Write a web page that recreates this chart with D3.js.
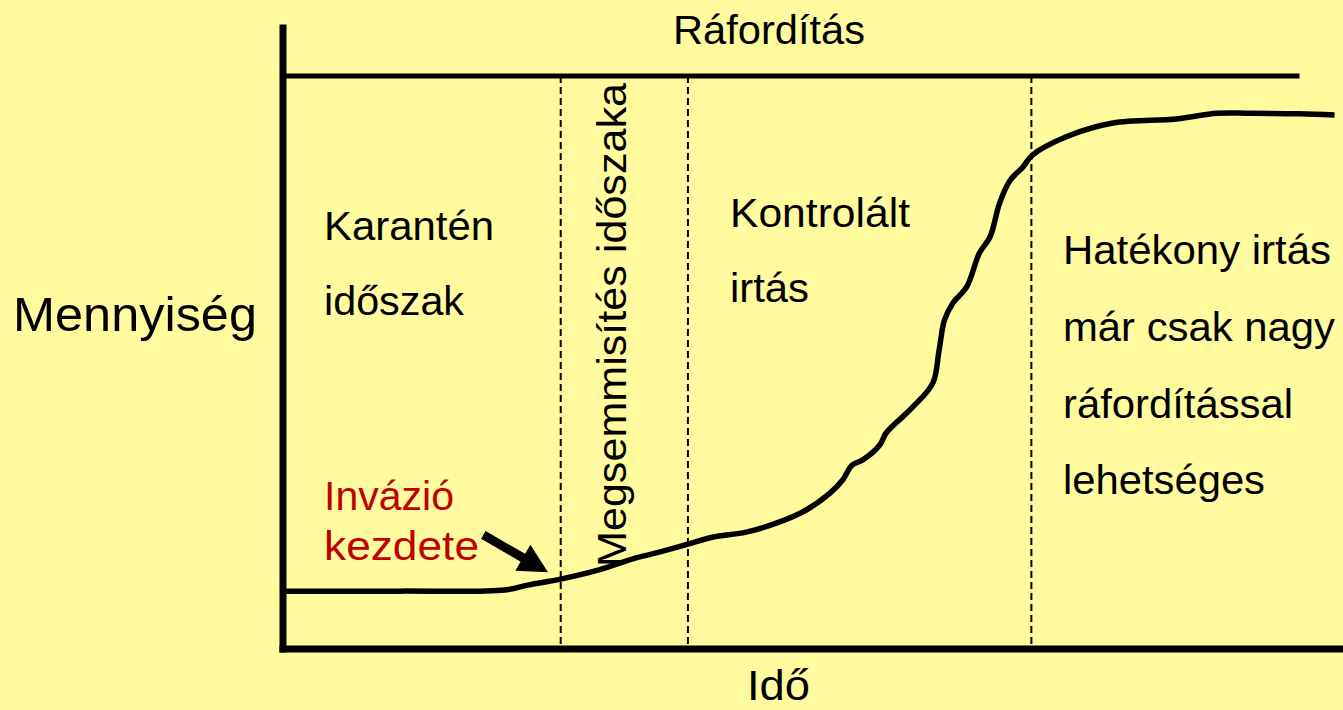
<!DOCTYPE html>
<html>
<head>
<meta charset="utf-8">
<script src="https://cdn.jsdelivr.net/npm/d3@7"></script>
<style>
  html, body { margin: 0; padding: 0; background: #FFFB9E; }
  svg { display: block; }
  text { font-family: "Liberation Sans", Arial, sans-serif; }
</style>
</head>
<body>
<svg id="chart" width="1343" height="710"></svg>
<script>
// ---- data (time 0..100, quantity 0..100) ----
const curveTime = [0, 11.0, 20.9, 23.2, 26.2, 29.8, 33.3, 35.5, 38.2, 40.5, 43.7, 46.6, 49.4, 51.6, 52.8, 53.7, 54.7, 56.3, 56.9, 59.4, 61.3, 61.9, 62.4, 63.2, 64.5, 65.7, 66.7, 67.6, 68.6, 69.8, 70.7, 73.9, 78.3, 84.3, 88.1, 91.2, 95.9, 99.2];
const curveQty  = [10.1, 10.1, 10.3, 11.2, 12.2, 13.8, 15.9, 16.9, 18.3, 19.5, 20.4, 22.0, 24.3, 27.2, 29.5, 32.1, 33.0, 35.6, 37.7, 42.2, 46.4, 52.2, 57.4, 60.4, 63.2, 69.1, 71.9, 77.8, 81.8, 84.1, 86.2, 89.4, 91.8, 92.5, 93.5, 93.5, 93.4, 93.2];
const phaseBounds = [26.2, 38.2, 70.6];          // dashed separators (time)
const effortLevel = 100;                          // "Ráfordítás" line (quantity)
const effortEnd = 95.9;                           // where the effort line ends (time)
const yAxisTop = 109;                             // y axis extends above
const arrowTail = [18.9, 19.9];                   // [time, qty]
const arrowTip  = [25.0, 13.4];

const titleTop = "Ráfordítás";
const yTitle = "Mennyiség";
const xTitle = "Idő";
const phase1Lines = ["Karantén", "időszak"];
const phase2Label = "Megsemmisítés időszaka";
const phase3Lines = ["Kontrolált", "irtás"];
const phase4Lines = ["Hatékony irtás", "már csak nagy", "ráfordítással", "lehetséges"];
const invasionLines = ["Invázió", "kezdete"];
</script>
<script>
const svg = d3.select("#chart");
const x = d3.scaleLinear().domain([0, 100]).range([283, 1343]);
const y = d3.scaleLinear().domain([0, 100]).range([649, 76]);

// dashed phase separators
svg.selectAll("line.phase").data(phaseBounds).enter().append("line")
  .attr("class", "phase")
  .attr("x1", d => x(d)).attr("x2", d => x(d))
  .attr("y1", y(effortLevel)).attr("y2", y(0))
  .attr("stroke", "#000").attr("stroke-width", 2)
  .attr("stroke-dasharray", "7,4");

// effort line
svg.append("line")
  .attr("x1", x(0)).attr("x2", x(effortEnd))
  .attr("y1", y(effortLevel)).attr("y2", y(effortLevel))
  .attr("stroke", "#000").attr("stroke-width", 5);

// curve
const pts = curveTime.map((t, i) => [t, curveQty[i]]);
svg.append("path")
  .datum(pts)
  .attr("d", d3.line().x(d => x(d[0])).y(d => y(d[1])).curve(d3.curveCatmullRom.alpha(0.5)))
  .attr("fill", "none").attr("stroke", "#000").attr("stroke-width", 5.5)
  .attr("stroke-linejoin", "round").attr("stroke-linecap", "butt");

// axes
svg.append("line")
  .attr("x1", x(0)).attr("x2", x(0))
  .attr("y1", y(yAxisTop)).attr("y2", y(0) + 3.5)
  .attr("stroke", "#000").attr("stroke-width", 7);
svg.append("line")
  .attr("x1", x(0) - 3.5).attr("x2", x(100))
  .attr("y1", y(0)).attr("y2", y(0))
  .attr("stroke", "#000").attr("stroke-width", 7);

// arrow
const ax0 = x(arrowTail[0]), ay0 = y(arrowTail[1]);
const ax1 = x(arrowTip[0]), ay1 = y(arrowTip[1]);
const dx = ax1 - ax0, dy = ay1 - ay0, L = Math.hypot(dx, dy);
const ux = dx / L, uy = dy / L, headLen = 29, headHalf = 15;
const bx = ax1 - ux * headLen, by = ay1 - uy * headLen;
svg.append("line")
  .attr("x1", ax0).attr("y1", ay0).attr("x2", bx + ux * 2).attr("y2", by + uy * 2)
  .attr("stroke", "#000").attr("stroke-width", 9);
svg.append("polygon")
  .attr("points", [[ax1, ay1], [bx - uy * headHalf, by + ux * headHalf], [bx + uy * headHalf, by - ux * headHalf]].map(p => p.join(",")).join(" "))
  .attr("fill", "#000");

// text helper
function txt(s, px, py, size, len, color) {
  return svg.append("text")
    .attr("x", px).attr("y", py)
    .attr("font-size", size)
    .attr("fill", color || "#000")
    .attr("textLength", len)
    .attr("lengthAdjust", "spacingAndGlyphs")
    .text(s);
}

txt(titleTop, 673, 44, 41, 192);
txt(yTitle, 13, 331, 49, 244);
txt(xTitle, 747, 700, 42, 63);

const p1Base = [240, 315], p1Len = [170, 140];
phase1Lines.forEach((s, i) => txt(s, 324, p1Base[i], 41, p1Len[i]));

const p3Base = [227, 302], p3Len = [180, 79];
phase3Lines.forEach((s, i) => txt(s, 730, p3Base[i], 41, p3Len[i]));

const p4Base = [264, 341, 418, 494], p4Len = [268, 272, 230, 202];
phase4Lines.forEach((s, i) => txt(s, 1063, p4Base[i], 41, p4Len[i]));

const invBase = [510, 560], invLen = [130, 155];
invasionLines.forEach((s, i) => txt(s, 324, invBase[i], 41, invLen[i], "#C00000"));

svg.append("text")
  .attr("transform", "translate(626,567) rotate(-90)")
  .attr("font-size", 41)
  .attr("textLength", 484)
  .attr("lengthAdjust", "spacingAndGlyphs")
  .text(phase2Label);
</script>
</body>
</html>
